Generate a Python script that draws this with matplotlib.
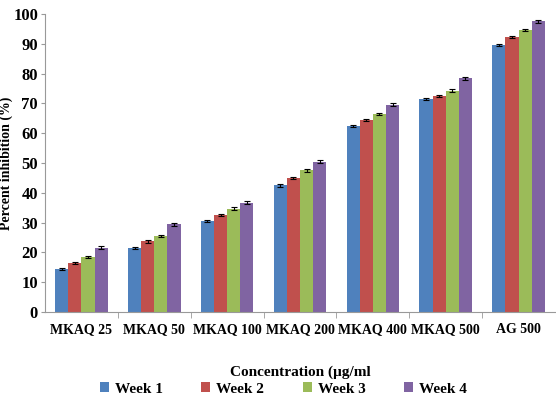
import matplotlib.pyplot as plt
import numpy as np

categories = ["MKAQ 25", "MKAQ 50", "MKAQ 100", "MKAQ 200", "MKAQ 400", "MKAQ 500", "AG 500"]
weeks = ["Week 1", "Week 2", "Week 3", "Week 4"]
week1 = [14.5, 21.5, 30.5, 42.5, 62.5, 71.5, 89.7]
week2 = [16.5, 23.7, 32.5, 45.0, 64.5, 72.5, 92.2]
week3 = [18.5, 25.5, 34.7, 47.5, 66.5, 74.3, 94.6]
week4 = [21.5, 29.5, 36.7, 50.5, 69.5, 78.5, 97.5]
errors = [0.4, 0.4, 0.4, 0.5]
colors = ["#4F81BD", "#C0504D", "#9BBB59", "#8064A2"]

plt.rcParams['font.family'] = ['Liberation Serif', 'DejaVu Serif']
plt.rcParams['font.weight'] = 'bold'

fig = plt.figure(figsize=(5.56, 3.99), dpi=100)
ax = fig.add_axes([45 / 556, 1 - 312 / 399, 510 / 556, 298 / 399])

x = np.arange(len(categories))
width = 0.18
series = [week1, week2, week3, week4]
for i, vals in enumerate(series):
    ax.bar(x + (i - 1.5) * width, vals, width, color=colors[i], label=weeks[i],
           yerr=errors[i], capsize=2, error_kw=dict(elinewidth=0.8, capthick=0.8, ecolor='black'))

ax.set_xlim(-0.5, len(categories) - 0.5)
ax.set_ylim(0, 100)
ax.set_yticks(range(0, 101, 10))
ax.tick_params(axis='y', labelsize=12, length=3, color='#999999', pad=2)
ax.set_xticks(x)
ax.set_xticklabels(categories, fontsize=10, fontweight='bold')
ax.tick_params(axis='x', length=0, pad=8)
ax.set_xticks(np.arange(0.5, len(categories) - 0.5), minor=True)
ax.tick_params(axis='x', which='minor', length=4, color='#999999')
for s in ['top', 'right']:
    ax.spines[s].set_visible(False)
for s in ['left', 'bottom']:
    ax.spines[s].set_color('#999999')

ax.set_ylabel("Percent inhibition (%)", fontsize=10, fontweight='bold')
ax.yaxis.set_label_coords(-32 / 510, 0.5)
fig.text(0.5 * (45 + 555) / 556, 1 - 372 / 399, "Concentration (\u00b5g/ml", ha='center', va='center',
         fontsize=11, fontweight='bold')

leg = fig.legend(loc='center', bbox_to_anchor=(0.5 * (45 + 555) / 556 - 0.03, 1 - 389 / 399), ncol=4,
                 frameon=False, fontsize=11, handlelength=0.6, handleheight=0.6, handletextpad=0.4,
                 columnspacing=2.5, borderaxespad=0)

fig.savefig("out.png", dpi=100)
